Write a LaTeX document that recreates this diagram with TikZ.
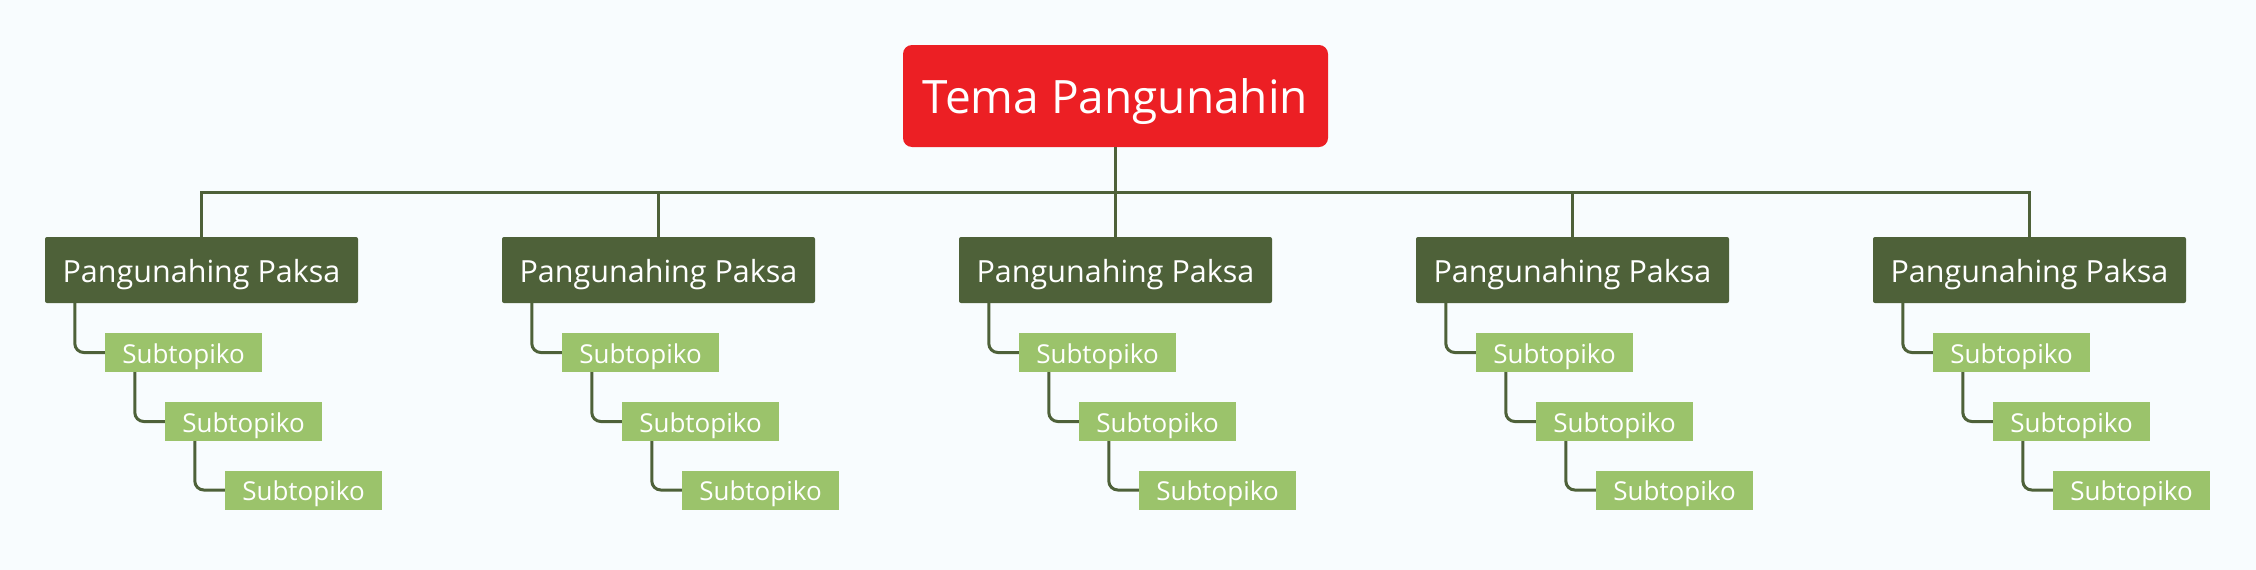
\documentclass[tikz,border=0pt]{standalone}
\usepackage{fontspec}
\setmainfont{Open Sans}
\definecolor{bgcol}{HTML}{F8FCFE}
\definecolor{maincol}{HTML}{EC1F24}
\definecolor{topiccol}{HTML}{4E6139}
\definecolor{subcol}{HTML}{9BC36B}

\begin{document}
\begin{tikzpicture}[x=1pt,y=-1pt,
  mainbox/.style={fill=maincol, text=white, rounded corners=9pt, minimum width=425pt, inner ysep=0pt, text height=68pt, text depth=34pt, font=\fontsize{46}{50}\selectfont},
  topicbox/.style={fill=topiccol, text=white, rounded corners=2pt, minimum width=313pt, inner ysep=0pt, text height=45pt, text depth=21pt, font=\fontsize{30.5}{34}\selectfont},
  subbox/.style={fill=subcol, text=white, minimum width=157pt, inner sep=0pt, text height=30pt, text depth=9pt, font=\fontsize{26}{30}\selectfont},
  link/.style={draw=topiccol, line width=3pt},
  sublink/.style={draw=topiccol, line width=3pt, rounded corners=9pt}]
\fill[bgcol] (0,0) rectangle (2256,570);
\useasboundingbox (0,0) rectangle (2256,570);
\node[mainbox] (main) at (1115.5,96) {Tema Pangunahin};
\foreach \i in {1,...,5} {
  \pgfmathsetmacro{\cx}{201.5+457*(\i-1)}
  \node[topicbox] (p\i) at (\cx,270) {Pangunahing Paksa};
  \node[subbox] (sa\i) at (\cx-18,352.5) {Subtopiko};
  \node[subbox] (sb\i) at (\cx+42,421.5) {Subtopiko};
  \node[subbox] (sc\i) at (\cx+102,490) {Subtopiko};
  \draw[link] (main.south) -- ++(0,45) -| (p\i.north);
  \draw[sublink] ([xshift=30pt]p\i.south west) |- (sa\i.west);
  \draw[sublink] ([xshift=30pt]sa\i.south west) |- (sb\i.west);
  \draw[sublink] ([xshift=30pt]sb\i.south west) |- (sc\i.west);
}
\end{tikzpicture}
\end{document}
